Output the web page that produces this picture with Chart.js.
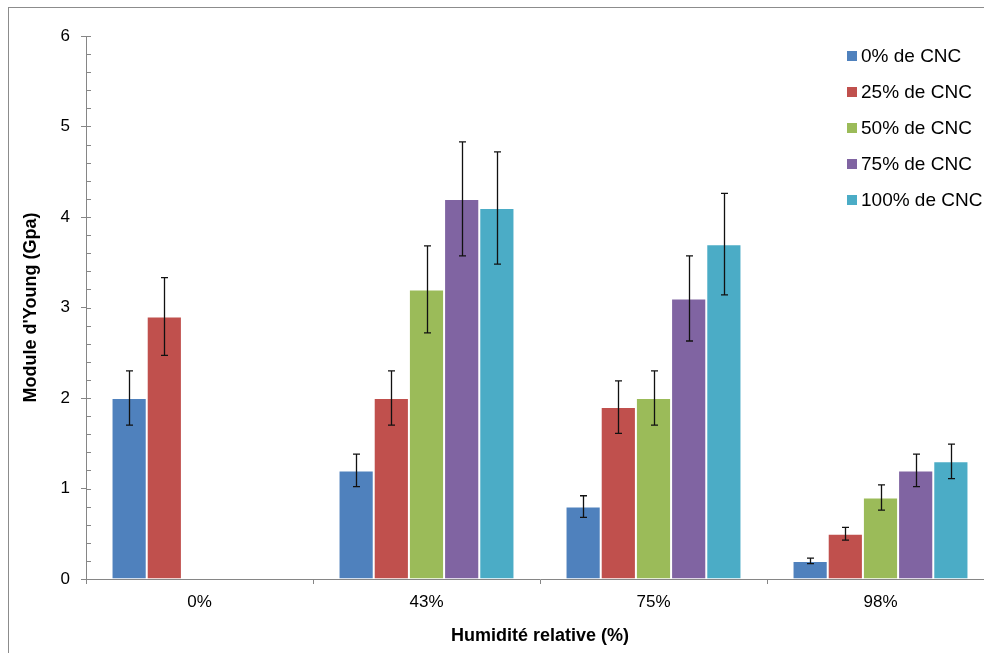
<!DOCTYPE html>
<html>
<head>
<meta charset="utf-8">
<script src="https://cdn.jsdelivr.net/npm/chart.js@4"></script>
<style>
  html, body { margin: 0; padding: 0; background: #fff; overflow: hidden; }
  #wrap { position: absolute; left: 0; top: 0; width: 1010px; height: 653px; }
  #frame {
    position: absolute; left: 8px; top: 7px; width: 1200px; height: 800px;
    border-left: 1px solid #8c8c8c; border-top: 1px solid #8c8c8c;
    pointer-events: none;
  }
</style>
</head>
<body>
<div id="wrap"><canvas id="chart" width="1010" height="653"></canvas></div>
<div id="frame"></div>
<script>
const categories = ["0%", "43%", "75%", "98%"];
const seriesLabels = ["0% de CNC", "25% de CNC", "50% de CNC", "75% de CNC", "100% de CNC"];
const colors = ["#4F81BD", "#C0504D", "#9BBB59", "#8064A2", "#4BACC6"];

const cnc0 = [2.0, 1.2, 0.8, 0.2];
const cnc25 = [2.9, 2.0, 1.9, 0.5];
const cnc50 = [null, 3.2, 2.0, 0.9];
const cnc75 = [null, 4.2, 3.1, 1.2];
const cnc100 = [null, 4.1, 3.7, 1.3];

// standard deviation (error bars)
const err0 = [0.3, 0.18, 0.12, 0.03];
const err25 = [0.43, 0.3, 0.29, 0.07];
const err50 = [null, 0.48, 0.3, 0.14];
const err75 = [null, 0.63, 0.47, 0.18];
const err100 = [null, 0.62, 0.56, 0.19];

const yTicks = [0, 1, 2, 3, 4, 5, 6];

const values = [cnc0, cnc25, cnc50, cnc75, cnc100];
const errors = [err0, err25, err50, err75, err100];

Chart.defaults.font.family = "'Liberation Sans', Arial, sans-serif";
Chart.defaults.color = "#000";

const axisGray = "#868686";

const errorBars = {
  id: "errorBars",
  afterDatasetsDraw(chart) {
    const ctx = chart.ctx;
    const y = chart.scales.y;
    ctx.save();
    ctx.strokeStyle = "#111";
    ctx.lineWidth = 1.3;
    chart.data.datasets.forEach((ds, i) => {
      const meta = chart.getDatasetMeta(i);
      meta.data.forEach((bar, j) => {
        const v = ds.data[j];
        const e = errors[i][j];
        if (v == null || e == null) return;
        const top = y.getPixelForValue(v + e);
        const bot = y.getPixelForValue(v - e);
        const x = Math.round(bar.x) + 0.5;
        ctx.beginPath();
        ctx.moveTo(x, top);
        ctx.lineTo(x, bot);
        ctx.moveTo(x - 3.5, top);
        ctx.lineTo(x + 3.5, top);
        ctx.moveTo(x - 3.5, bot);
        ctx.lineTo(x + 3.5, bot);
        ctx.stroke();
      });
    });
    ctx.restore();
  },
};

// minor ticks pointing inside the plot, every 0.2
const minorTicks = {
  id: "minorTicks",
  afterDraw(chart) {
    const ctx = chart.ctx;
    const y = chart.scales.y;
    const left = chart.chartArea.left;
    ctx.save();
    ctx.strokeStyle = axisGray;
    ctx.lineWidth = 1;
    for (let k = 0; k <= 30; k++) {
      const py = Math.round(y.getPixelForValue(k * 0.2)) + 0.5;
      ctx.beginPath();
      ctx.moveTo(left, py);
      ctx.lineTo(left + 5, py);
      ctx.stroke();
    }
    ctx.restore();
  },
};

const sideLegend = {
  id: "sideLegend",
  afterDraw(chart) {
    const ctx = chart.ctx;
    ctx.save();
    ctx.font = "19px 'Liberation Sans', Arial, sans-serif";
    ctx.textBaseline = "middle";
    chart.data.datasets.forEach((ds, i) => {
      const cy = 56 + i * 36;
      ctx.fillStyle = ds.backgroundColor;
      ctx.fillRect(847, cy - 5, 10, 10);
      ctx.fillStyle = "#000";
      ctx.fillText(ds.label, 861, cy + 1);
    });
    ctx.restore();
  },
};

const datasets = values.map((vals, i) => ({
  label: seriesLabels[i],
  data: vals,
  backgroundColor: colors[i],
  borderColor: "rgba(255,255,255,0.2)",
  borderWidth: 1,
  categoryPercentage: 0.775,
  barPercentage: 1.0,
}));

new Chart(document.getElementById("chart"), {
  type: "bar",
  data: { labels: categories, datasets: datasets },
  plugins: [errorBars, minorTicks, sideLegend],
  options: {
    responsive: false,
    animation: false,
    events: [],
    layout: { padding: { left: 0, top: 36, right: 16, bottom: 0 } },
    plugins: {
      legend: { display: false },
      tooltip: { enabled: false },
    },
    scales: {
      x: {
        afterFit: (scale) => { scale.height = 74; },
        grid: {
          offset: true,
          drawOnChartArea: false,
          tickLength: 5,
          color: axisGray,
        },
        border: { color: axisGray, width: 1 },
        ticks: { font: { size: 17 }, padding: 8, color: "#000" },
        title: {
          display: true,
          text: "Humidité relative (%)",
          font: { size: 18, weight: "bold" },
          color: "#000",
          padding: { top: 6, bottom: 6 },
        },
      },
      y: {
        min: 0,
        max: 6,
        afterFit: (scale) => { scale.width = 86; },
        afterBuildTicks: (scale) => {
          scale.ticks = yTicks.map((v) => ({ value: v }));
        },
        grid: {
          drawOnChartArea: false,
          tickLength: 5,
          color: axisGray,
        },
        border: { color: axisGray, width: 1 },
        ticks: { font: { size: 17 }, padding: 11, color: "#000" },
        title: {
          display: true,
          text: "Module d'Young (Gpa)",
          font: { size: 18, weight: "bold" },
          color: "#000",
          padding: { top: 20, bottom: 20 },
        },
      },
    },
  },
});
</script>
</body>
</html>
